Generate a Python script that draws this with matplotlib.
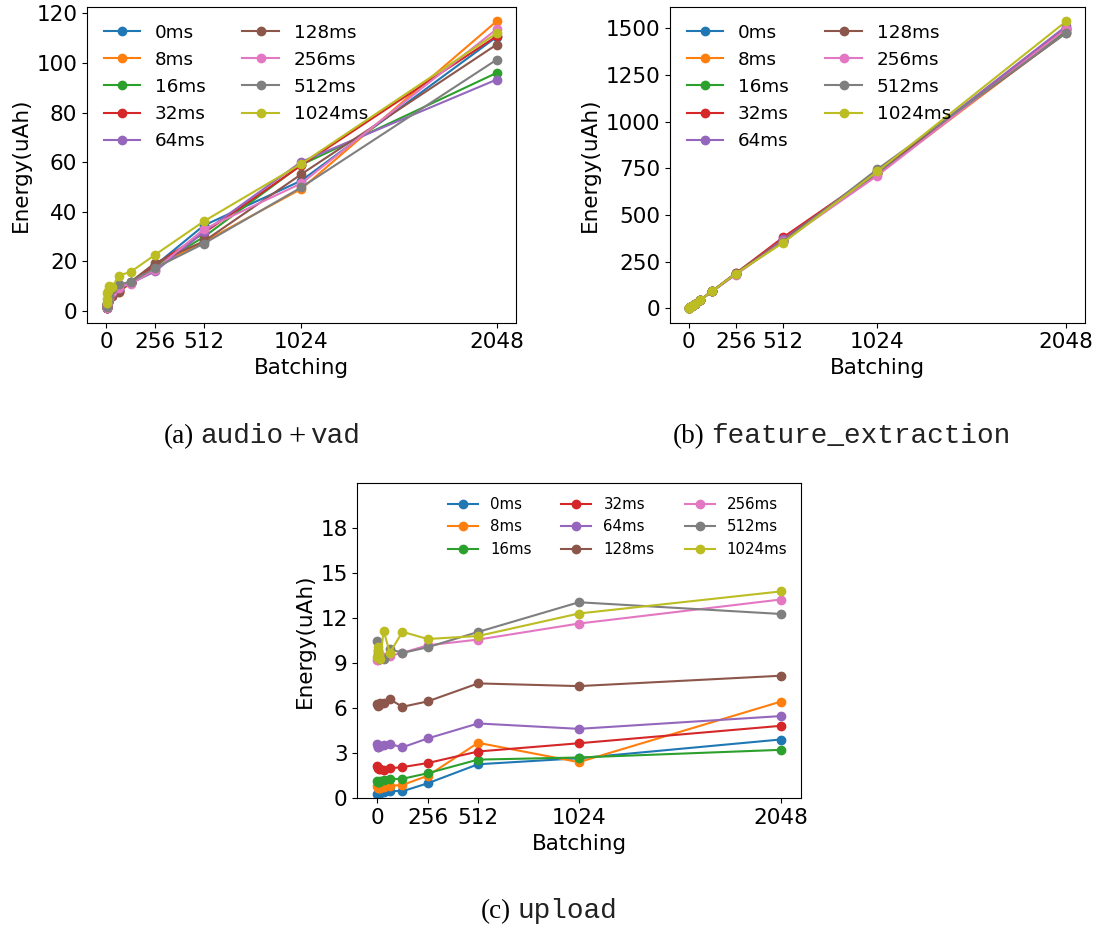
import matplotlib
matplotlib.use('Agg')
import matplotlib.pyplot as plt

batching = [1, 2, 4, 8, 16, 32, 64, 128, 256, 512, 1024, 2048]
delays = ['0ms', '8ms', '16ms', '32ms', '64ms', '128ms', '256ms', '512ms', '1024ms']
xticks = [0, 256, 512, 1024, 2048]

# energy per delay, audio + vad stage
audio_vad = [
    [1.3, 1.8, 2.6, 3.5, 5.0, 6.2, 8.5, 11.6, 18.4, 34.5, 52.6, 110.5],
    [1.2, 1.7, 2.5, 3.4, 4.8, 5.9, 7.6, 11.4, 18.0, 27.9, 49.3, 116.8],
    [1.4, 1.9, 2.7, 3.6, 5.0, 6.3, 8.3, 11.5, 18.0, 29.9, 59.0, 96.0],
    [1.3, 1.8, 2.6, 3.5, 4.9, 6.1, 7.9, 11.3, 18.7, 31.5, 58.8, 110.8],
    [1.2, 1.7, 2.5, 3.5, 5.0, 6.3, 8.4, 11.2, 16.0, 31.9, 60.2, 93.3],
    [1.4, 2.0, 2.8, 3.8, 5.2, 6.4, 7.6, 11.8, 19.4, 28.1, 55.2, 107.4],
    [1.1, 1.6, 2.4, 3.6, 5.4, 7.5, 9.5, 11.0, 16.7, 33.0, 51.5, 113.6],
    [1.5, 2.2, 3.2, 4.6, 6.2, 8.8, 10.8, 11.7, 17.4, 27.2, 49.9, 101.3],
    [3.1, 5.0, 7.2, 8.2, 10.2, 9.6, 14.3, 15.8, 22.7, 36.2, 59.4, 112.0],
]

# feature extraction stage
feature = [
    [0.8, 1.5, 3.0, 5.9, 11.8, 23.4, 46.5, 92.8, 186, 366, 728, 1495],
    [0.8, 1.5, 2.9, 5.8, 11.6, 23.1, 46.0, 91.9, 183, 362, 718, 1482],
    [0.8, 1.5, 3.0, 5.9, 11.7, 23.3, 46.4, 92.5, 185, 368, 725, 1490],
    [0.8, 1.5, 3.0, 6.0, 11.9, 23.7, 47.2, 94.1, 189, 381, 731, 1502],
    [0.8, 1.5, 3.0, 5.9, 11.8, 23.5, 46.8, 93.2, 186, 370, 729, 1512],
    [0.8, 1.5, 3.0, 5.9, 11.7, 23.4, 46.6, 93.0, 190, 364, 736, 1476],
    [0.8, 1.5, 2.9, 5.8, 11.6, 23.2, 46.2, 92.0, 182, 360, 712, 1498],
    [0.8, 1.5, 3.0, 5.9, 11.8, 23.5, 46.9, 93.5, 187, 356, 746, 1476],
    [0.8, 1.5, 3.0, 6.0, 11.9, 23.6, 47.0, 93.8, 187, 352, 734, 1538],
]

# upload stage
upload = [
    [0.30, 0.25, 0.25, 0.30, 0.35, 0.45, 0.50, 0.47, 1.00, 2.27, 2.67, 3.92],
    [0.80, 0.75, 0.70, 0.68, 0.70, 0.75, 0.83, 0.89, 1.50, 3.70, 2.41, 6.44],
    [1.15, 1.10, 1.10, 1.12, 1.15, 1.20, 1.28, 1.30, 1.67, 2.58, 2.72, 3.23],
    [2.15, 2.05, 2.00, 1.95, 1.95, 1.90, 2.00, 2.08, 2.35, 3.12, 3.67, 4.83],
    [3.60, 3.45, 3.40, 3.50, 3.50, 3.55, 3.62, 3.40, 3.99, 4.99, 4.63, 5.48],
    [6.30, 6.20, 6.15, 6.25, 6.35, 6.35, 6.60, 6.10, 6.46, 7.66, 7.48, 8.17],
    [9.20, 9.30, 9.25, 9.30, 9.35, 9.40, 9.50, 9.70, 10.20, 10.58, 11.65, 13.25],
    [10.50, 9.60, 9.80, 9.40, 9.30, 9.30, 9.95, 9.69, 10.07, 11.09, 13.07, 12.29],
    [9.40, 10.10, 9.90, 9.60, 9.30, 11.18, 9.70, 11.10, 10.62, 10.82, 12.32, 13.79],
]

W, H = 1097, 927
fig = plt.figure(figsize=(W / 100, H / 100), dpi=100)


def panel(rect, data, legend_kw):
    ax = fig.add_axes([rect[0] / W, 1 - rect[3] / H,
                       (rect[2] - rect[0]) / W, (rect[3] - rect[1]) / H])
    for name, vals in zip(delays, data):
        ax.plot(batching, vals, marker='o', label=name)
    ax.set_xticks(xticks)
    ax.set_xlabel('Batching', fontsize=15.5)
    ax.set_ylabel('Energy(uAh)', fontsize=15.5)
    ax.tick_params(labelsize=15.5)
    ax.legend(frameon=False, **legend_kw)
    return ax


def caption(xsplit, y, tag, parts):
    # serif tag on the left of xsplit, code names set in mono after it
    fig.text(xsplit / W, 1 - y / H, tag, ha='right', va='baseline',
             family='Liberation Serif', fontsize=19.5)
    x = xsplit + 6
    r = fig.canvas.get_renderer()
    for txt, fam in parts:
        mono = fam == 'Liberation Mono'
        t = fig.text(x / W, 1 - (y if mono else y + 2) / H, txt,
                     ha='left', va='baseline', family=fam,
                     fontsize=20 if mono else 22,
                     color='#222222' if mono else 'black')
        x += t.get_window_extent(r).width + 5


ax_a = panel((87, 7, 516, 322.7), audio_vad,
             dict(loc='upper left', ncol=2, fontsize=13.2))
ax_b = panel((670, 7, 1085, 322.7), feature,
             dict(loc='upper left', ncol=2, fontsize=13.2))
ax_c = panel((357.3, 483.3, 800.7, 798.3), upload,
             dict(loc='upper right', ncol=3, fontsize=10.8))
ax_c.set_ylim(0, 21)
ax_c.set_yticks(range(0, 19, 3))

caption(194, 443, '(a)', [('audio', 'Liberation Mono'), ('+', 'Liberation Serif'),
                          ('vad', 'Liberation Mono')])
caption(705, 443, '(b)', [('feature_extraction', 'Liberation Mono')])
caption(511, 918, '(c)', [('upload', 'Liberation Mono')])

fig.savefig('out.png', dpi=100)
